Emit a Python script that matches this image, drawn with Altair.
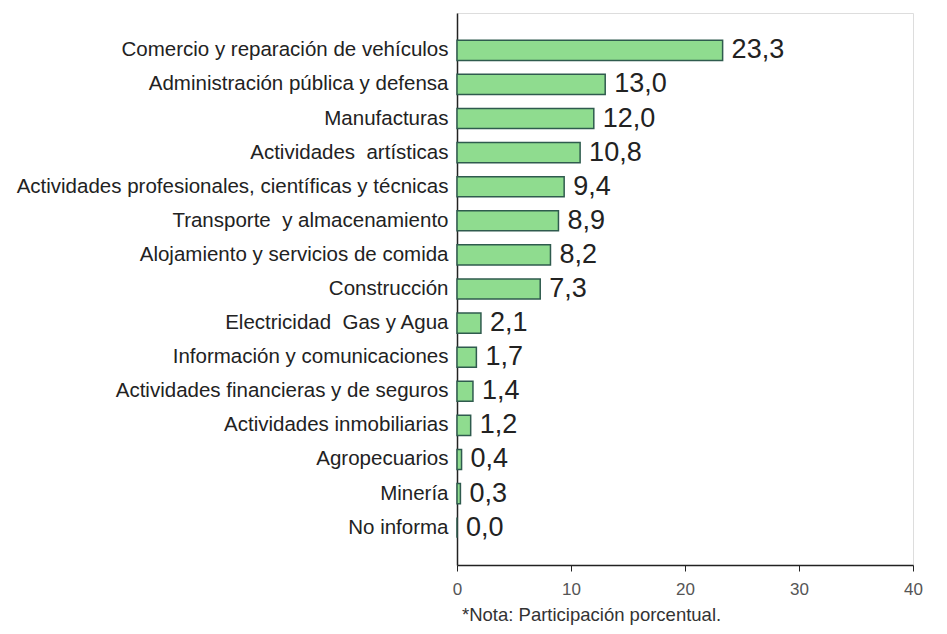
import altair as alt
import pandas as pd

NB = "\u00a0"
categories = [
    "Comercio y reparación de vehículos",
    "Administración pública y defensa",
    "Manufacturas",
    "Actividades" + NB + " artísticas",
    "Actividades profesionales, científicas y técnicas",
    "Transporte" + NB + " y almacenamiento",
    "Alojamiento y servicios de comida",
    "Construcción",
    "Electricidad" + NB + " Gas y Agua",
    "Información y comunicaciones",
    "Actividades financieras y de seguros",
    "Actividades inmobiliarias",
    "Agropecuarios",
    "Minería",
    "No informa",
]
values = [23.3, 13.0, 12.0, 10.8, 9.4, 8.9, 8.2, 7.3, 2.1, 1.7, 1.4, 1.2, 0.4, 0.3, 0.0]
labels = ["23,3", "13,0", "12,0", "10,8", "9,4", "8,9", "8,2", "7,3", "2,1", "1,7", "1,4", "1,2", "0,4", "0,3", "0,0"]
x_ticks = [0, 10, 20, 30, 40]

df = pd.DataFrame({"cat": categories, "val": values, "lab": labels})

FONT = "Liberation Sans"

y_enc = alt.Y(
    "cat:N",
    sort=categories,
    title=None,
    scale=alt.Scale(paddingInner=0.41, paddingOuter=0.8),
    axis=alt.Axis(
        ticks=False,
        domain=True,
        domainColor="#222",
        domainWidth=1.5,
        labelFont=FONT,
        labelFontSize=20.5,
        labelColor="#222",
        labelPadding=9,
        labelLimit=0,
        minExtent=444,
        maxExtent=444,
    ),
)

x_enc = alt.X(
    "val:Q",
    title=None,
    scale=alt.Scale(domain=[0, 40], nice=False, zero=True),
    axis=alt.Axis(
        values=x_ticks,
        grid=False,
        domainColor="#222",
        domainWidth=1.5,
        tickColor="#222",
        tickSize=6,
        labelFont=FONT,
        labelFontSize=17,
        labelColor="#555",
        labelPadding=10,
        labelFlush=False,
    ),
)

bars = alt.Chart(df).mark_bar(
    color="#8fdc8f", stroke="#2f5b4e", strokeWidth=1.5
).encode(x=x_enc, y=y_enc)

text = alt.Chart(df).mark_text(
    align="left", baseline="middle", dx=9, font=FONT, fontSize=27, color="#222"
).encode(x="val:Q", y=alt.Y("cat:N", sort=categories), text="lab:N")

chart = (
    alt.layer(bars, text)
    .properties(
        width=456,
        height=552,
        padding={"left": 5, "top": 5, "right": 5, "bottom": 5},
        title=alt.TitleParams(
            "*Nota: Participación porcentual.",
            orient="bottom",
            anchor="start",
            frame="group",
            font=FONT,
            fontSize=18.5,
            fontWeight="normal",
            color="#333",
            offset=9,
            dx=5,
        ),
    )
    .configure_view(stroke=None)
    .configure(background="white")
)

chart.save("out.html", embed_options={"renderer": "svg", "actions": False})
